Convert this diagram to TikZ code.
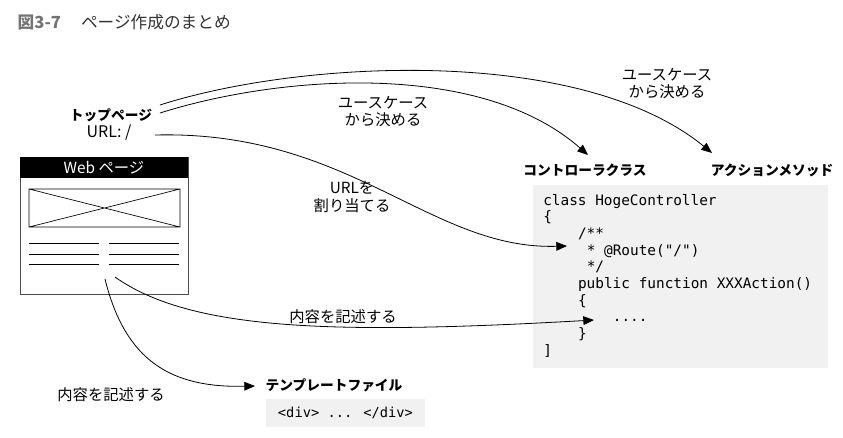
\documentclass[tikz,border=0pt]{standalone}
\usepackage{fontspec}
\setmainfont{Noto Sans CJK JP}
\newfontfamily\codefont{DejaVu Sans Mono}
\usetikzlibrary{arrows.meta}

\begin{document}
\begin{tikzpicture}[x=0.75pt, y=-0.75pt,
   flow/.style = {-{Triangle[length=8pt, width=6.5pt]}, line width=0.6pt},
   heading/.style = {font=\fontsize{10.3}{12}\selectfont\bfseries, inner sep=0pt},
   note/.style = {font=\fontsize{11.5}{12.8}\selectfont, align=center, inner sep=0pt},
   code/.style = {font=\codefont\fontsize{10.8}{12.5}\selectfont, inner sep=0pt},
   codebox/.style = {fill=gray!11, inner sep=0pt}]
   \useasboundingbox (0,0) rectangle (843,437);

   % title
   \node[anchor=west, font=\fontsize{12.5}{14}\selectfont, text=black!80] (title) at (13,22)
      {{\bfseries\color{black!55}図3-7}\hspace{1.2em}ページ作成のまとめ};

   % web page sketch
   \draw[black!70, line width=0.6pt] (20,157) rectangle (188,294);
   \fill (20,157) rectangle (188,178);
   \node[text=white, font=\fontsize{11.5}{13}\selectfont, inner sep=0pt] (web) at (104,167.5) {Web ページ};
   \draw[line width=0.5pt] (29,189) rectangle (180,227) (29,189) -- (180,227) (29,227) -- (180,189);
   \foreach \y in {243,254,264}
      \draw[line width=0.5pt] (29,\y) -- (99,\y) (109,\y) -- (179,\y);

   \node[heading] (toppage) at (111,115) {トップページ};
   \node[note, font=\fontsize{12}{14}\selectfont] (url) at (109,133) {URL: /};

   % targets
   \node[heading] (ctrl) at (585,170) {コントローラクラス};
   \node[heading] (action) at (772,170) {アクションメソッド};
   \node[codebox, minimum width=221.25pt, minimum height=137.25pt, anchor=north west] (ctrlbox) at (533,185) {};
   \foreach \col/\txt [count=\row from 0] in {0/{class HogeController}, 0/{\{}, 4/{/**},
         5/{* @Route("/")}, 5/{*/}, 4/{public function XXXAction()}, 4/{\{}, 8/{....}, 4/{\}}, 0/{]}}
      \node[code, anchor=base west] at (543+8.7*\col, 205+16.7*\row) {\txt};

   \node[heading] (tmpl) at (334,385) {テンプレートファイル};
   \node[codebox, code, font=\codefont\fontsize{10.3}{12}\selectfont,
      minimum width=119.25pt, minimum height=21pt] (tmplbox) at (345.5,413) {<div> ... </div>};

   % labels on the arrows
   \node[note] (uc1) at (383,112) {ユースケース\\から決める};
   \node[note] (uc2) at (667,84) {ユースケース\\から決める};
   \node[note] (assign) at (352,197) {URLを\\割り当てる};
   \node[note] (write1) at (343,317) {内容を記述する};
   \node[note] (write2) at (111,395) {内容を記述する};

   % arrows
   \coordinate (s1) at (160,105);
   \coordinate (s2) at (160,113);
   \coordinate (s3) at (155,135);
   \coordinate (s4) at (115,277);
   \coordinate (s5) at (105,279);
   \coordinate (e1) at (712,153);
   \coordinate (e2) at (588,155);
   \coordinate (e3) at (567,246);
   \coordinate (e4) at (594,320);
   \coordinate (e5) at (255,386);

   \draw[flow] (s1) .. controls (300,60) and (580,45) .. (e1);
   \draw[flow] (s2) .. controls (280,75) and (480,60) .. (e2);
   \draw[flow] (s3) .. controls (350,130) and (430,250) .. (e3);
   \draw[flow] (s4) .. controls (190,330) and (330,335) .. (e4);
   \draw[flow] (s5) .. controls (125,360) and (170,388) .. (e5);
\end{tikzpicture}
\end{document}
